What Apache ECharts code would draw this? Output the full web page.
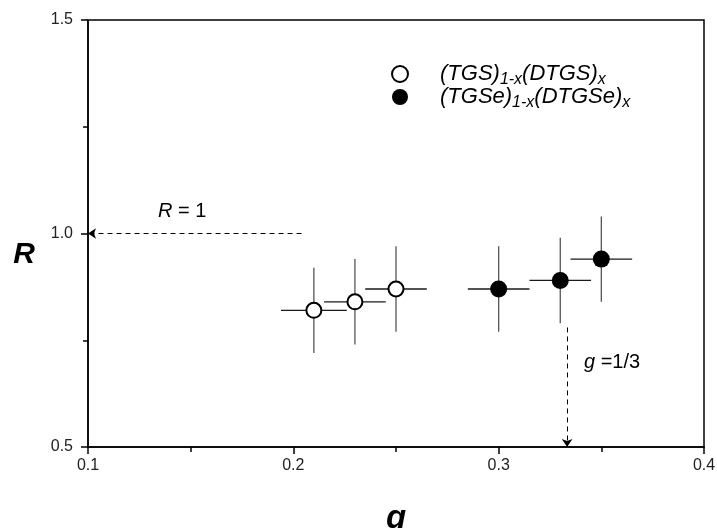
<!DOCTYPE html>
<html>
<head>
<meta charset="utf-8">
<script src="https://cdn.jsdelivr.net/npm/echarts@6/dist/echarts.min.js"></script>
<style>
  html, body { margin: 0; padding: 0; background: #fff; }
  #chart { width: 717px; height: 528px; }
</style>
</head>
<body>
<div id="chart"></div>
<script>
// (TGS)1-x(DTGS)x - open circles
const gTGS = [0.21, 0.23, 0.25]
const rTGS = [0.82, 0.84, 0.87]
const gErrTGS = [0.016, 0.015, 0.015]
const rErrTGS = [0.1, 0.1, 0.1]
// (TGSe)1-x(DTGSe)x - filled circles
const gTGSe = [0.30, 0.33, 0.35]
const rTGSe = [0.87, 0.89, 0.94]
const gErrTGSe = [0.015, 0.015, 0.015]
const rErrTGSe = [0.1, 0.1, 0.1]
// axis ticks
const xTicks = [0.1, 0.2, 0.3, 0.4]
const yTicks = [0.5, 1.0, 1.5]
// reference arrows
const rRef = 1
const gRef = 1 / 3

const font = 'Liberation Sans, Arial, Helvetica, sans-serif'
const chart = echarts.init(document.getElementById('chart'))

function pts(gs, rs) {
  return gs.map((g, i) => [g, rs[i]])
}
function errs(gs, rs, ge, re) {
  return gs.map((g, i) => [g, rs[i], ge[i], re[i]])
}

function errorBars(params, api) {
  const x = api.value(0)
  const y = api.value(1)
  const dx = api.value(2)
  const dy = api.value(3)
  const l = api.coord([x - dx, y])
  const r = api.coord([x + dx, y])
  const t = api.coord([x, y + dy])
  const b = api.coord([x, y - dy])
  return {
    type: 'group',
    children: [
      { type: 'line', shape: { x1: l[0], y1: l[1], x2: r[0], y2: r[1] }, style: { stroke: '#1a1a1a', lineWidth: 1.3 } },
      { type: 'line', shape: { x1: t[0], y1: t[1], x2: b[0], y2: b[1] }, style: { stroke: '#555', lineWidth: 1.3 } }
    ]
  }
}

const legendNames = {
  TGS: '{sp|}{i|(TGS)}{s|1-x}{i|(DTGS)}{s|x}',
  TGSe: '{sp|}{i|(TGSe)}{s|1-x}{i|(DTGSe)}{s|x}'
}

const isTick = (v, list) => list.some(t => Math.abs(t - v) < 1e-6)

chart.setOption({
  animation: false,
  textStyle: { fontFamily: font },
  grid: {
    left: 88,
    right: 13,
    top: 20,
    bottom: 81,
    outerBoundsMode: 'none',
    containLabel: false,
    show: true,
    borderColor: '#000',
    borderWidth: 1.5
  },
  legend: {
    data: ['TGS', 'TGSe'],
    orient: 'vertical',
    left: 386,
    top: 58,
    itemWidth: 16,
    itemHeight: 16,
    itemGap: -2,
    formatter: name => legendNames[name],
    textStyle: {
      rich: {
        sp: { width: 27 },
        i: { fontFamily: font, fontStyle: 'italic', fontSize: 22, color: '#000' },
        s: { fontFamily: font, fontStyle: 'italic', fontSize: 16, color: '#000', padding: [12, 0, 0, 0] }
      }
    }
  },
  xAxis: {
    type: 'value',
    min: 0.1,
    max: 0.4,
    interval: 0.1,
    name: 'g',
    nameLocation: 'middle',
    nameGap: 55,
    nameTextStyle: { fontFamily: font, fontStyle: 'italic', fontWeight: 'bold', fontSize: 33, color: '#000' },
    axisLine: { lineStyle: { color: '#000', width: 1.5 } },
    axisTick: { show: true, length: 7, lineStyle: { color: '#000', width: 1.5 } },
    minorTick: { show: true, splitNumber: 2, length: 5, lineStyle: { color: '#000', width: 1.5 } },
    axisLabel: {
      color: '#222',
      fontSize: 16,
      margin: 11,
      formatter: v => (isTick(v, xTicks) ? v.toFixed(1) : '')
    },
    splitLine: { show: false }
  },
  yAxis: {
    type: 'value',
    min: 0.5,
    max: 1.5,
    interval: 0.5,
    name: 'R',
    nameLocation: 'middle',
    nameRotate: 0,
    nameGap: 53,
    nameTextStyle: {
      fontFamily: font,
      fontStyle: 'italic',
      fontWeight: 'bold',
      fontSize: 30,
      color: '#000',
      verticalAlign: 'top',
      padding: [6, 0, 0, 0]
    },
    axisLine: { lineStyle: { color: '#000', width: 1.5 } },
    axisTick: { show: true, length: 7, lineStyle: { color: '#000', width: 1.5 } },
    minorTick: { show: true, splitNumber: 2, length: 5, lineStyle: { color: '#000', width: 1.5 } },
    axisLabel: {
      color: '#222',
      fontSize: 16,
      margin: 15,
      formatter: v => (isTick(v, yTicks) ? v.toFixed(1) : '')
    },
    splitLine: { show: false }
  },
  series: [
    {
      name: 'errTGS',
      type: 'custom',
      renderItem: errorBars,
      encode: { x: 0, y: 1 },
      data: errs(gTGS, rTGS, gErrTGS, rErrTGS),
      z: 1
    },
    {
      name: 'errTGSe',
      type: 'custom',
      renderItem: errorBars,
      encode: { x: 0, y: 1 },
      data: errs(gTGSe, rTGSe, gErrTGSe, rErrTGSe),
      z: 1
    },
    {
      name: 'TGS',
      type: 'scatter',
      symbol: 'circle',
      symbolSize: 15,
      itemStyle: { color: '#fff', borderColor: '#000', borderWidth: 2, opacity: 1 },
      data: pts(gTGS, rTGS),
      z: 3,
      markLine: {
        silent: true,
        animation: false,
        symbolSize: 8,
        label: { show: false },
        lineStyle: { type: [5, 4], color: '#000', width: 1 },
        data: [
          [{ coord: [0.204, rRef], symbol: 'none' }, { coord: [0.1, rRef], symbol: 'arrow' }],
          [{ coord: [gRef, 0.78], symbol: 'none' }, { coord: [gRef, 0.5], symbol: 'arrow' }]
        ]
      }
    },
    {
      name: 'TGSe',
      type: 'scatter',
      symbol: 'circle',
      symbolSize: 17,
      itemStyle: { color: '#000', borderColor: '#000', borderWidth: 0, opacity: 1 },
      data: pts(gTGSe, rTGSe),
      z: 3
    }
  ],
  graphic: [
    {
      type: 'text',
      left: 158,
      top: 201,
      style: {
        text: '{i|R} = 1',
        font: '20px ' + font,
        fill: '#000',
        rich: { i: { fontStyle: 'italic', fontSize: 20, fontFamily: font } }
      }
    },
    {
      type: 'text',
      left: 584,
      top: 352,
      style: {
        text: '{i|g} =1/3',
        font: '20px ' + font,
        fill: '#000',
        rich: { i: { fontStyle: 'italic', fontSize: 20, fontFamily: font } }
      }
    }
  ]
})
</script>
</body>
</html>
